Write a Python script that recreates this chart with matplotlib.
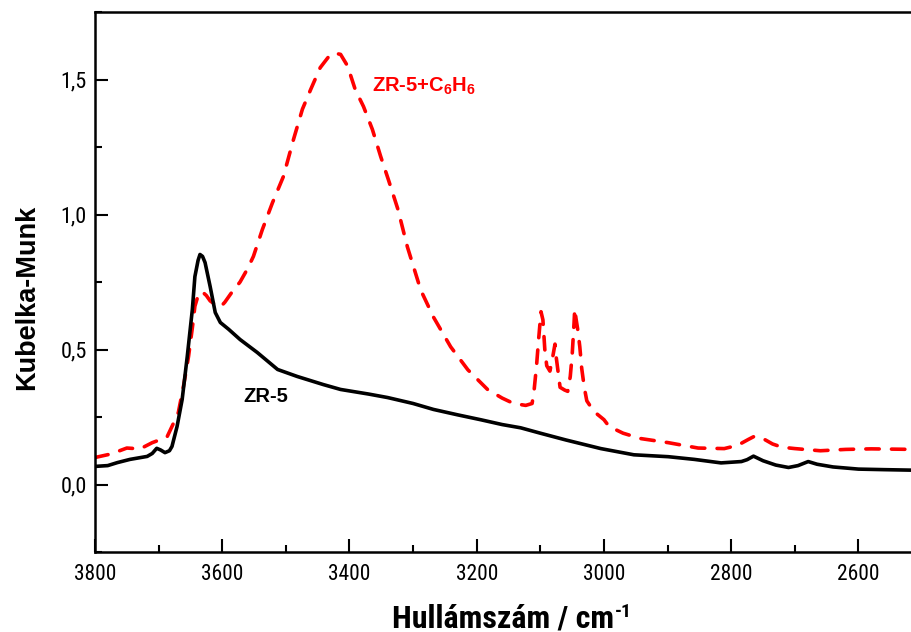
import matplotlib
matplotlib.use("Agg")
import os, glob
import matplotlib.pyplot as plt
from matplotlib.ticker import MultipleLocator, FuncFormatter
from matplotlib.font_manager import FontProperties

# ZR-5 (black, solid)
zr5_x = [3800, 3780, 3765, 3745, 3718, 3710, 3703, 3697, 3690, 3683, 3679, 3671, 3663,
         3655, 3647, 3643, 3638, 3635, 3631, 3627, 3619, 3611, 3603, 3590, 3572, 3545,
         3513, 3482, 3441, 3414, 3370, 3340, 3300, 3268, 3230, 3194, 3160, 3131, 3100,
         3060, 3005, 2953, 2899, 2858, 2816, 2784, 2775, 2765, 2750, 2730, 2710, 2695,
         2679, 2665, 2640, 2600, 2560, 2513]
zr5_y = [0.067, 0.070, 0.081, 0.093, 0.104, 0.115, 0.134, 0.128, 0.118, 0.125, 0.141,
         0.215, 0.315, 0.474, 0.648, 0.770, 0.830, 0.852, 0.845, 0.822, 0.733, 0.637,
         0.600, 0.575, 0.537, 0.489, 0.426, 0.400, 0.370, 0.352, 0.335, 0.322, 0.300,
         0.278, 0.258, 0.240, 0.222, 0.210, 0.190, 0.165, 0.133, 0.110, 0.103, 0.093,
         0.080, 0.085, 0.092, 0.105, 0.088, 0.072, 0.063, 0.070, 0.085, 0.075, 0.065,
         0.057, 0.055, 0.053]

# ZR-5 + C6H6 (red, dashed)
benz_x = [3800, 3775, 3750, 3729, 3710, 3687, 3678, 3669, 3661, 3653, 3647, 3643, 3638,
          3632, 3625, 3619, 3610, 3603, 3596, 3584, 3572, 3560, 3551, 3537, 3521, 3504,
          3488, 3474, 3461, 3446, 3430, 3422, 3414, 3403, 3391, 3378, 3364, 3351, 3339,
          3324, 3309, 3288, 3268, 3241, 3214, 3183, 3160, 3142, 3123, 3113, 3110, 3106,
          3103, 3099, 3096, 3093, 3090, 3085, 3080, 3077, 3075, 3072, 3069, 3062, 3057,
          3053, 3050, 3047, 3046, 3044, 3041, 3038, 3035, 3031, 3027, 3020, 3014, 3000,
          2992, 2970, 2942, 2899, 2852, 2811, 2790, 2773, 2764, 2750, 2735, 2720, 2700,
          2660, 2620, 2580, 2513]
benz_y = [0.100, 0.113, 0.135, 0.132, 0.155, 0.175, 0.220, 0.267, 0.363, 0.474, 0.580,
          0.660, 0.700, 0.715, 0.700, 0.680, 0.665, 0.657, 0.675, 0.715, 0.750, 0.800,
          0.845, 0.944, 1.044, 1.140, 1.278, 1.390, 1.463, 1.544, 1.593, 1.597, 1.593,
          1.550, 1.463, 1.400, 1.315, 1.215, 1.130, 1.020, 0.880, 0.720, 0.620, 0.510,
          0.425, 0.352, 0.320, 0.300, 0.293, 0.300, 0.345, 0.440, 0.530, 0.640, 0.610,
          0.500, 0.440, 0.420, 0.480, 0.520, 0.470, 0.415, 0.360, 0.350, 0.345, 0.400,
          0.480, 0.600, 0.650, 0.615, 0.570, 0.510, 0.430, 0.360, 0.310, 0.285, 0.267,
          0.240, 0.215, 0.190, 0.170, 0.155, 0.135, 0.133, 0.145, 0.167, 0.178, 0.170,
          0.150, 0.138, 0.133, 0.125, 0.130, 0.132, 0.130]

assert len(zr5_x) == len(zr5_y) and len(benz_x) == len(benz_y)

x_major = [3800, 3600, 3400, 3200, 3000, 2800, 2600]
y_major = [0.0, 0.5, 1.0, 1.5]
xlim = (3800, 2513)
ylim = (-0.25, 1.75)

label_zr5 = "ZR-5"
label_benz = "ZR-5+C$_6$H$_6$"
xlabel = "Hullámszám / cm"
xlabel_sup = "-1"
ylabel = "Kubelka-Munk"

plt.rcParams['font.family'] = ['Liberation Sans', 'DejaVu Sans']
plt.rcParams['mathtext.default'] = 'regular'


def find_font(names):
    files = []
    for d in ['/usr/share/fonts', '/usr/local/share/fonts', os.path.expanduser('~/.fonts'),
              os.path.expanduser('~/.local/share/fonts')]:
        files += glob.glob(os.path.join(d, '**', '*.[ot]tf'), recursive=True)
    base = {os.path.basename(f).lower(): f for f in files}
    for n in names:
        if n.lower() in base:
            return base[n.lower()]
    return None


narrow_reg = find_font(['LiberationSansNarrow-Regular.ttf', 'ArialNarrow.ttf', 'arialn.ttf',
                        'NotoSans-Condensed.ttf', 'Roboto-Condensed.ttf',
                        'RobotoCondensed-Regular.ttf', 'OpenSans-CondensedRegular.ttf',
                        'NotoSans-SemiCondensed.ttf'])
narrow_bold = find_font(['LiberationSansNarrow-Bold.ttf', 'ArialNarrowBold.ttf', 'arialnb.ttf',
                         'NotoSans-CondensedBold.ttf', 'RobotoCondensed-Bold.ttf',
                         'Roboto-BoldCondensed.ttf', 'OpenSans-CondensedBold.ttf',
                         'OpenSans-CondBold.ttf', 'NotoSans-SemiCondensedBold.ttf'])


def fp(size, bold=False, narrow=True):
    f = narrow_bold if bold else narrow_reg
    if narrow and f:
        return FontProperties(fname=f, size=size)
    return FontProperties(family=['Liberation Sans', 'DejaVu Sans'], size=size,
                          weight='bold' if bold else 'normal')


fig = plt.figure(figsize=(9.12, 6.32), dpi=100)
ax = fig.add_axes([95/912, 80/632, 1 - 95/912 + 0.002, 540/632])

ax.plot(zr5_x, zr5_y, color='black', lw=2.6, solid_joinstyle='round', zorder=3)
ax.plot(benz_x, benz_y, color='#ff0000', lw=2.6, linestyle=(0, (3.7, 3.4)),
        dash_capstyle='round', zorder=2)

ax.set_xlim(*xlim)
ax.set_ylim(*ylim)
ax.set_xticks(x_major)
ax.xaxis.set_minor_locator(MultipleLocator(100))
ax.set_yticks(y_major)
ax.yaxis.set_minor_locator(MultipleLocator(0.25))
ax.yaxis.set_major_formatter(FuncFormatter(lambda v, p: f"{v:.1f}".replace('.', ',')))

ax.tick_params(which='both', direction='in', width=1.5, top=False, right=False)
ax.tick_params(which='major', length=9.5)
ax.tick_params(which='minor', length=5)
ax.tick_params(axis='y', pad=6)
ax.tick_params(axis='x', pad=9)

xt_fp = fp(15.5) if narrow_reg else fp(14, narrow=False)
yt_fp = fp(16) if narrow_reg else fp(15, narrow=False)
for lab in ax.get_xticklabels():
    lab.set_fontproperties(xt_fp)
for lab in ax.get_yticklabels():
    lab.set_fontproperties(yt_fp)

for s in ['left', 'bottom', 'top']:
    ax.spines[s].set_linewidth(1.8)
ax.spines['right'].set_visible(False)

# axis titles
fig.text(27.5/912, 1 - 297.5/632, ylabel, rotation=90, ha='center', va='center',
         fontsize=19.5, fontweight='bold')

xl_fp = fp(23, bold=True) if narrow_bold else fp(21, bold=True, narrow=False)
xs_fp = fp(14, bold=True) if narrow_bold else fp(13, bold=True, narrow=False)
t_main = fig.text(0, (632 - 627) / 632, xlabel, ha='left', va='baseline',
                  fontproperties=xl_fp)
t_sup = fig.text(0, (632 - 617) / 632, xlabel_sup, ha='left', va='baseline',
                 fontproperties=xs_fp)
fig.canvas.draw()
r = fig.canvas.get_renderer()
w_main = t_main.get_window_extent(r).width
w_sup = t_sup.get_window_extent(r).width
x0 = 512 - (w_main + w_sup + 1) / 2
t_main.set_x(x0 / 912)
t_sup.set_x((x0 + w_main + 1) / 912)

ax.text(3567, 0.307, label_zr5, fontsize=14.5, fontweight='bold', color='black',
        ha='left', va='baseline')
ax.text(3364, 1.453, label_benz, fontsize=14.5, fontweight='bold', color='#ff0000',
        ha='left', va='baseline')

fig.savefig("out.png", dpi=100)
